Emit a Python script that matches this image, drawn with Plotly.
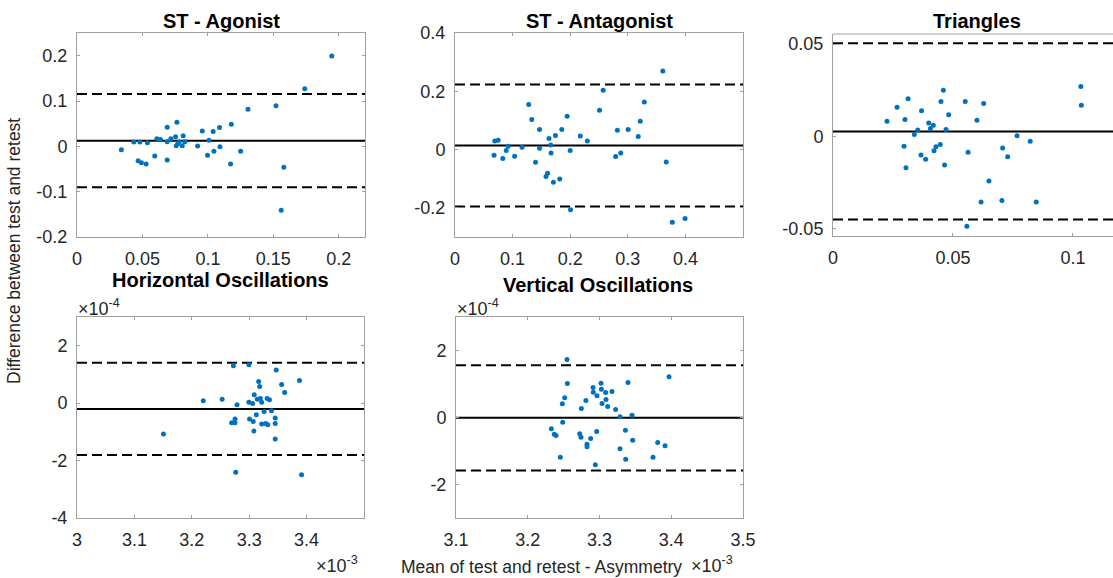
import plotly.graph_objects as go

W, H = 1113, 578

# ---------------- data ----------------
# ST - Agonist
ag_x = [0.0339, 0.0434, 0.048, 0.0538, 0.0467, 0.0492, 0.0528, 0.0594, 0.061, 0.0638,
        0.0689, 0.0689, 0.0689, 0.0717, 0.0753, 0.0763, 0.0758, 0.077, 0.078, 0.0804,
        0.0811, 0.0824, 0.0921, 0.0957, 0.0997, 0.1008, 0.104, 0.1046, 0.1089, 0.1092,
        0.1179, 0.1173, 0.125, 0.1306, 0.152, 0.156, 0.158, 0.174, 0.1946]
ag_y = [-0.0074, 0.0096, 0.0096, 0.0081, -0.0317, -0.0362, -0.0391, -0.0214, 0.017, 0.0148,
        0.042, 0.0103, -0.0303, 0.017, 0.0214, 0.0531, 0.0015, 0.0059, 0.0103, 0.0015,
        0.0236, 0.0103, 0.0007, 0.034, -0.0199, 0.0133, 0.0325, -0.0111, 0.0413, -0.0007,
        0.0487, -0.0391, -0.0111, 0.0819, 0.0893, -0.141, -0.046, 0.127, 0.199]
ag_stats = [0.0125, 0.1155, -0.0905]  # mean, upper LoA, lower LoA

# ST - Antagonist
an_x = [0.0678, 0.069, 0.0749, 0.083, 0.0889, 0.0924, 0.1035, 0.1164, 0.128, 0.1333,
        0.1398, 0.1468, 0.1468, 0.158, 0.1608, 0.1632, 0.1661, 0.1667, 0.1708, 0.1743,
        0.1819, 0.1854, 0.1947, 0.2, 0.2006, 0.2175, 0.2298, 0.2509, 0.2573, 0.2789,
        0.2819, 0.2877, 0.3006, 0.3181, 0.3216, 0.3287, 0.3608, 0.3667, 0.3772, 0.3994]
an_y = [-0.0194, 0.0297, 0.032, -0.0309, -0.0034, 0.0114, -0.0229, 0.008, 0.155, 0.1029,
        -0.0434, 0.0686, 0.0046, -0.0926, -0.0811, 0.0377, 0.016, -0.0114, -0.112, 0.048,
        -0.1006, 0.0686, 0.1143, -0.0034, -0.2069, 0.0469, 0.0297, 0.1349, 0.2034, -0.024,
        0.0663, -0.0114, 0.0686, 0.0446, 0.0971, 0.1634, 0.2697, -0.0423, -0.2491, -0.2366]
an_stats = [0.0137, 0.2229, -0.1954]

# Triangles
tr_x = [0.0225, 0.0267, 0.0313, 0.03, 0.0296, 0.0304, 0.0339, 0.0353, 0.0369, 0.0367,
        0.0386, 0.0399, 0.0406, 0.0418, 0.0421, 0.0429, 0.0447, 0.045, 0.046, 0.0465,
        0.0471, 0.0482, 0.0551, 0.0558, 0.0563, 0.06, 0.0617, 0.0628, 0.065, 0.0704,
        0.0707, 0.0728, 0.0767, 0.0822, 0.0847, 0.1033, 0.1035]
tr_y = [0.0081, 0.0157, 0.0204, 0.0091, -0.0055, -0.0172, 0.0009, 0.0034, 0.0138, -0.0102,
        -0.0125, 0.0072, 0.0042, 0.006, -0.0079, -0.0057, -0.0045, 0.0189, 0.0249, -0.0157,
        0.0036, 0.0117, 0.0189, -0.0489, -0.0087, 0.0087, -0.0358, 0.0177, -0.0243, -0.0349,
        -0.0064, -0.0111, 0.0003, -0.0028, -0.0358, 0.027, 0.0168]
tr_stats = [0.0026, 0.0505, -0.0453]

# Horizontal Oscillations (x in 1e-3, y in 1e-4)
ho_x = [3.1506, 3.22, 3.2529, 3.2724, 3.2753, 3.2753, 3.2694, 3.2788, 3.2765, 3.2994,
        3.2994, 3.3006, 3.3059, 3.3071, 3.3082, 3.3088, 3.3124, 3.3141, 3.3165, 3.3182,
        3.3194, 3.3218, 3.3218, 3.3259, 3.3288, 3.3324, 3.3312, 3.3353, 3.3388, 3.3453,
        3.3453, 3.3453, 3.3471, 3.3565, 3.3618, 3.3876, 3.3912]
ho_y = [-1.075, 0.081, 0.139, 1.306, -0.555, -0.682, -0.682, -0.058, -2.405, 1.341,
        0.035, -0.555, -0.012, -0.636, -0.971, 0.289, -0.405, 0.139, 0.751, 0.578,
        0.162, 0.035, -0.728, -0.289, -0.705, -0.751, 0.162, 0.116, -0.266, -0.52,
        -0.705, -1.249, 1.156, 0.647, 0.37, 0.786, -2.497]
ho_stats = [-0.2, 1.41, -1.81]

# Vertical Oscillations (x in 1e-3, y in 1e-4)
vo_x = [3.2547, 3.2552, 3.2515, 3.2482, 3.2487, 3.2329, 3.237, 3.2394, 3.2454, 3.2747,
        3.281, 3.2724, 3.2742, 3.2826, 3.2826, 3.2877, 3.291, 3.2914, 3.2965, 3.2961,
        3.2942, 3.3021, 3.3026, 3.3035, 3.3086, 3.3091, 3.3114, 3.3174, 3.3225, 3.3286,
        3.3286, 3.3361, 3.3365, 3.3397, 3.3453, 3.3462, 3.3746, 3.3811, 3.3913, 3.3969]
vo_y = [1.731, 1.015, 0.587, 0.408, -0.139, -0.338, -0.498, -0.537, -1.184, 0.269,
        0.507, -0.488, -0.587, -0.796, -0.876, -0.627, 0.896, 0.756, 0.647, -0.418,
        -1.413, 1.025, 0.846, 0.418, 0.746, 0.537, 0.328, 0.776, 0.239, 0.02,
        -0.935, -0.378, -1.244, 1.045, 0.07, -0.677, -1.184, -0.746, -0.846, 1.214]
vo_stats = [-0.01, 1.56, -1.58]

titles = ["ST - Agonist", "ST - Antagonist", "Triangles",
          "Horizontal Oscillations", "Vertical Oscillations"]

x_ticks = [[0, 0.05, 0.1, 0.15, 0.2], [0, 0.1, 0.2, 0.3, 0.4], [0, 0.05, 0.1],
           [3, 3.1, 3.2, 3.3, 3.4], [3.1, 3.2, 3.3, 3.4, 3.5]]
x_ticktext = [["0", "0.05", "0.1", "0.15", "0.2"], ["0", "0.1", "0.2", "0.3", "0.4"],
              ["0", "0.05", "0.1"], ["3", "3.1", "3.2", "3.3", "3.4"],
              ["3.1", "3.2", "3.3", "3.4", "3.5"]]
y_ticks = [[-0.2, -0.1, 0, 0.1, 0.2], [-0.2, 0, 0.2, 0.4], [-0.05, 0, 0.05],
           [-4, -2, 0, 2], [-2, 0, 2]]
y_ticktext = [["-0.2", "-0.1", "0", "0.1", "0.2"], ["-0.2", "0", "0.2", "0.4"],
              ["-0.05", "0", "0.05"], ["-4", "-2", "0", "2"], ["-2", "0", "2"]]

x_ranges = [[0, 0.22], [0, 0.5], [0, 0.1167], [3, 3.5], [3.1, 3.5]]
y_ranges = [[-0.2, 0.25], [-0.3, 0.4], [-0.0542, 0.0555], [-4, 3], [-3, 3]]

# ---------------- layout (pixel boxes) ----------------
boxes = [(77, 365, 33, 237), (455, 743, 33, 237), (833, 1113, 34, 236),
         (77, 364, 317, 518), (456, 743, 317, 518)]
title_pos = [(221, 21), (599, 21), (977, 21), (220, 280), (598, 285)]

def px(x):
    return x / W

def py(y):
    return 1 - y / H

FONT = "Liberation Sans, Arial, Helvetica, sans-serif"
BLUE = "#0072BD"
AX = "#a0a0a0"
TXT = "#262626"

fig = go.Figure()
series = [(ag_x, ag_y, ag_stats), (an_x, an_y, an_stats), (tr_x, tr_y, tr_stats),
          (ho_x, ho_y, ho_stats), (vo_x, vo_y, vo_stats)]

shapes = []
annotations = []
for i, ((xs, ys, st), box) in enumerate(zip(series, boxes)):
    n = "" if i == 0 else str(i + 1)
    xa, ya = "x" + n, "y" + n
    fig.add_trace(go.Scatter(x=xs, y=ys, mode="markers", xaxis=xa, yaxis=ya,
                             marker=dict(color=BLUE, size=5), showlegend=False,
                             hoverinfo="skip"))
    x0, x1, y0, y1 = box
    mirror = "ticks" if i != 2 else False
    common = dict(showgrid=False, zeroline=False, showline=True, linecolor=AX,
                  linewidth=1, ticks="inside", ticklen=3, tickcolor=AX,
                  tickfont=dict(family=FONT, size=18, color=TXT), mirror=mirror,
                  automargin=False)
    fig.layout["xaxis" + n] = dict(domain=[px(x0), px(x1)], range=x_ranges[i],
                                   anchor=ya, tickvals=x_ticks[i], ticktext=x_ticktext[i],
                                   ticklabelstandoff=5, **common)
    fig.layout["yaxis" + n] = dict(domain=[py(y1), py(y0)], range=y_ranges[i],
                                   anchor=xa, tickvals=y_ticks[i], ticktext=y_ticktext[i],
                                   ticklabelstandoff=5, **common)
    if i == 2:
        # top border only (right side is cut by the figure edge)
        shapes.append(dict(type="line", xref="x3 domain", yref="y3 domain",
                           x0=0, x1=1, y0=1, y1=1, line=dict(color=AX, width=1)))
    xd = ("x" + n) + " domain"
    for k, v in enumerate(st):
        shapes.append(dict(type="line", xref=xd, yref=ya, x0=0, x1=1, y0=v, y1=v,
                           line=dict(color="black", width=2,
                                     dash="solid" if k == 0 else "10px,5px"),
                           layer="below"))
    tx, ty = title_pos[i]
    annotations.append(dict(text="<b>" + titles[i] + "</b>", x=px(tx), y=py(ty),
                            xref="paper", yref="paper", showarrow=False,
                            xanchor="center", yanchor="middle",
                            font=dict(family=FONT, size=20, color="black")))

# exponent labels
for (ex, ey, t) in [(76, 307, "×10<sup>-4</sup>"),
                    (455, 307, "×10<sup>-4</sup>"),
                    (314, 564, "×10<sup>-3</sup>"),
                    (689, 564, "×10<sup>-3</sup>")]:
    annotations.append(dict(text=t, x=px(ex), y=py(ey), xref="paper", yref="paper",
                            showarrow=False, xanchor="left", yanchor="middle",
                            font=dict(family=FONT, size=18, color=TXT)))

annotations.append(dict(text="Mean of test and retest - Asymmetry", x=px(541), y=py(567),
                        xref="paper", yref="paper", showarrow=False, xanchor="center",
                        yanchor="middle", font=dict(family=FONT, size=17.5, color=TXT)))
annotations.append(dict(text="Difference between test and retest", x=px(14), y=py(251),
                        xref="paper", yref="paper", showarrow=False, xanchor="center",
                        yanchor="middle", textangle=-90,
                        font=dict(family=FONT, size=17.5, color=TXT)))

fig.update_layout(width=W, height=H, margin=dict(l=0, r=0, t=0, b=0, pad=0, autoexpand=False),
                  paper_bgcolor="white", plot_bgcolor="white",
                  shapes=shapes, annotations=annotations, showlegend=False)

fig.write_html("out.html",
               post_script="document.body.style.margin='0px';"
                           "document.body.style.overflow='hidden';")
